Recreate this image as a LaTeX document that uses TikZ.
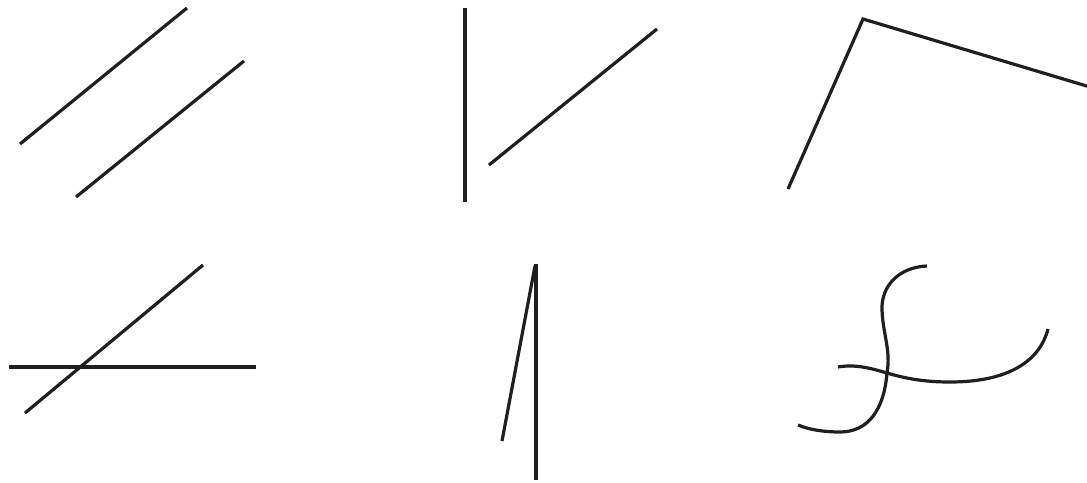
\documentclass[tikz,border=0pt]{standalone}
\begin{document}
\begin{tikzpicture}[x=1pt,y=-1pt,stroke/.style={line width=3.2pt,color=black!88}]
\useasboundingbox (0,0) rectangle (1087,482);
% top left: parallel lines
\draw[stroke] (20,144) -- (187,8);
\draw[stroke] (76,197) -- (244,61);
% top middle
\draw[stroke] (465,8) -- (465,202);
\draw[stroke] (489,165) -- (657,29);
% top right: angle
\draw[stroke] (788,189) -- (863,19) -- (1090,87);
% bottom left: crossing lines
\draw[stroke] (9,367) -- (256,367);
\draw[stroke] (25,413) -- (203,265);
% bottom middle
\draw[stroke] (536,264) -- (536,480);
\draw[stroke] (502,441) -- (535,266);
% bottom right: curves
\draw[stroke] (927,266) .. controls (900,267) and (881,285) .. (882,310)
  .. controls (883,335) and (891,350) .. (887,373)
  .. controls (884,410) and (868,432) .. (840,432)
  .. controls (825,432) and (810,430) .. (798,425);
\draw[stroke] (838,367) .. controls (855,364) and (870,368) .. (887,373)
  .. controls (910,380) and (930,382) .. (950,382)
  .. controls (1010,382) and (1040,360) .. (1048,329);
\end{tikzpicture}
\end{document}
